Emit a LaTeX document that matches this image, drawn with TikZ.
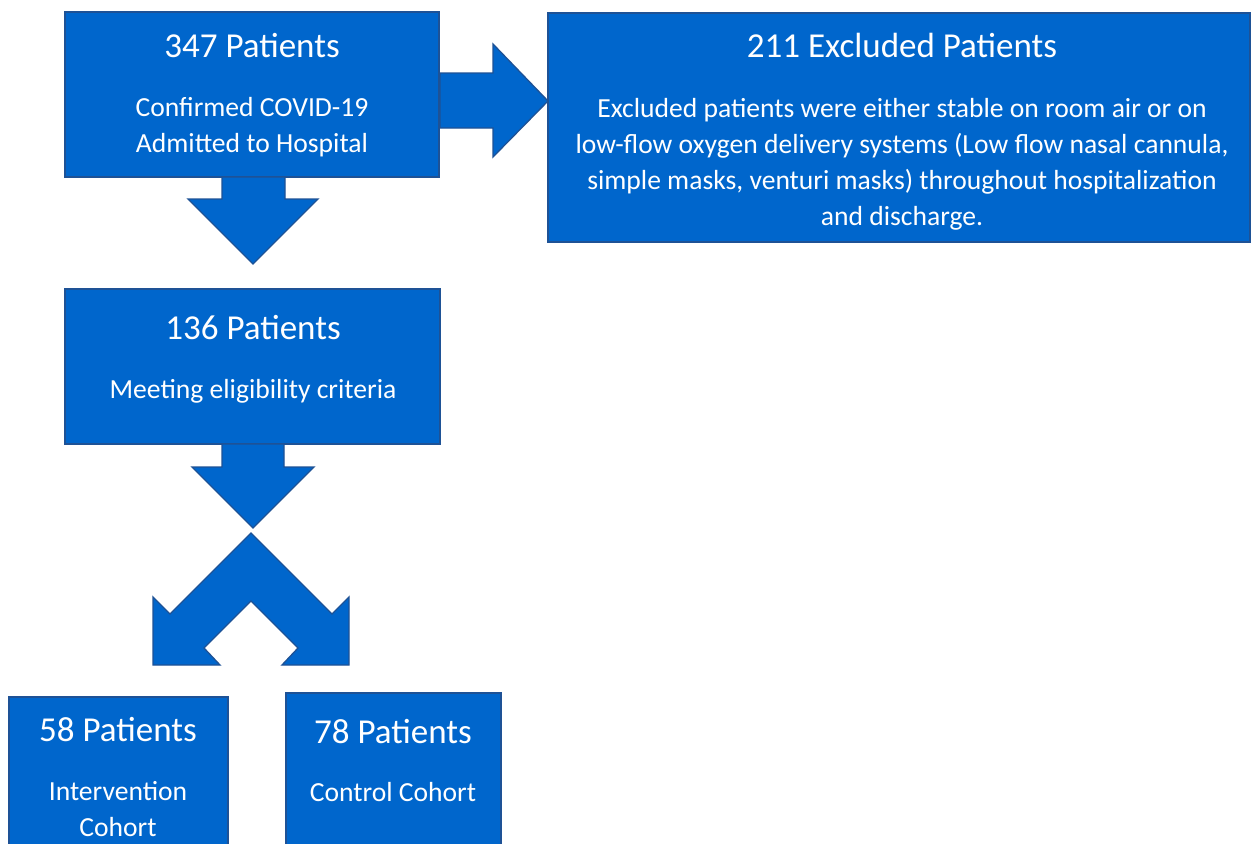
\documentclass[tikz,border=0pt]{standalone}
\usepackage{fontspec}
\setmainfont{Carlito}
\definecolor{boxblue}{RGB}{0,102,204}
\definecolor{edgeblue}{RGB}{30,82,150}
\tikzset{
	box/.style={draw=edgeblue, fill=boxblue, line width=1.3pt, inner sep=0pt},
	bigarrow/.style={draw=edgeblue, fill=boxblue, line width=1.3pt, line join=miter},
	title/.style={text=white, font=\fontsize{35}{42}\selectfont, anchor=base, inner sep=0pt},
	body/.style={text=white, font=\fontsize{27.6}{36}\selectfont, align=center, anchor=base, inner sep=0pt}
}
\begin{document}
\begin{tikzpicture}[x=1pt,y=-1pt]
		\useasboundingbox (0,0) rectangle (1252,843);
		\fill[white] (0,0) rectangle (1252,843);

		% boxes
		\node[box, minimum width=374pt, minimum height=165pt] (admitted) at (252,94.5) {};
		\node[box, minimum width=702pt, minimum height=229pt] (excluded) at (899,127.5) {};
		\node[box, minimum width=375pt, minimum height=155pt] (eligible) at (252.5,366.5) {};
		\node[box, minimum width=219pt, minimum height=173pt] (intervention) at (118.5,783.5) {};
		\node[box, minimum width=215pt, minimum height=177pt] (control) at (393.5,781.5) {};

		% texts (multi-line bodies sit on their last line)
		\node[title] (admittedT) at (252,58) {347 Patients};
		\node[body] (admittedB) at (252,152) {Confirmed COVID-19\\Admitted to Hospital};
		\node[title] (excludedT) at (902,58) {211 Excluded Patients};
		\node[body] (excludedB) at (902,225) {Excluded patients were either stable on room air or on\\low-flow oxygen delivery systems (Low flow nasal cannula,\\simple masks, venturi masks) throughout hospitalization\\and discharge.};
		\node[title] (eligibleT) at (253,339) {136 Patients};
		\node[body] (eligibleB) at (253,398) {Meeting eligibility criteria};
		\node[title] (interventionT) at (118,741) {58 Patients};
		\node[body] (interventionB) at (118,836) {Intervention\\Cohort};
		\node[title] (controlT) at (393,743) {78 Patients};
		\node[body] (controlB) at (393,801) {Control Cohort};

		% block arrows
		\draw[bigarrow] (440,73) -- (493,73) -- (493,44) -- (548,101) -- (493,157) -- (493,128) -- (440,128) -- cycle;
		\draw[bigarrow] (222,177) -- (222,199) -- (188,199) -- (253,264) -- (318,199) -- (285,199) -- (285,177) -- cycle;
		\draw[bigarrow] (222,444) -- (222,467) -- (192,467) -- (253,528) -- (314,467) -- (284,467) -- (284,444) -- cycle;
		\draw[bigarrow] (251,533) -- (332,614) -- (349,597) -- (349,665) -- (282,665) -- (298,648) -- (251,601)
			-- (204,648) -- (220,665) -- (153,665) -- (153,597) -- (170,614) -- cycle;

	\end{tikzpicture}
\end{document}
